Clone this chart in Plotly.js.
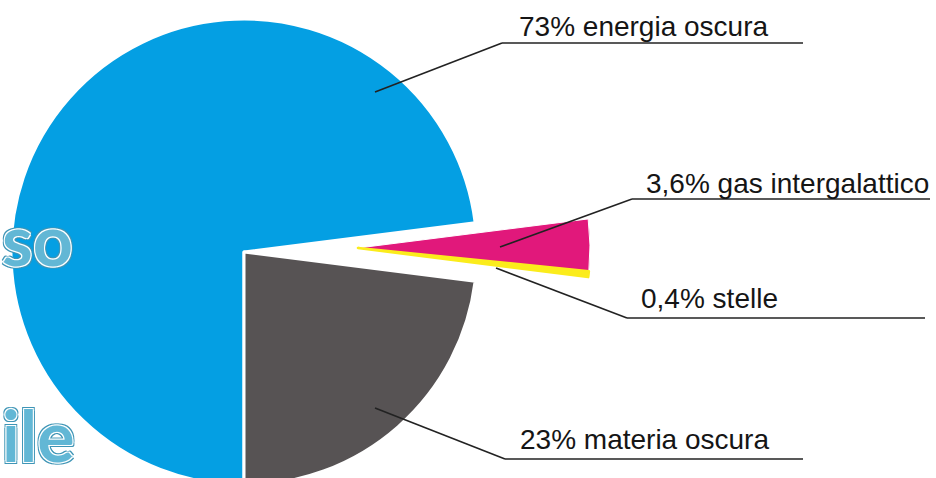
<!DOCTYPE html>
<html>
<head>
<meta charset="utf-8">
<script src="https://cdn.plot.ly/plotly-3.0.1.min.js"></script>
<style>
  html, body { margin: 0; padding: 0; background: #fff; overflow: hidden; width: 936px; height: 478px; }
  #chart { width: 936px; height: 490px; }
</style>
</head>
<body>
<div id="chart"></div>
<script>
// ---- data ----
const labels = ['energia oscura', 'gas intergalattico', 'stelle', 'materia oscura'];
const values = [73, 3.6, 0.4, 23];
const valueText = ['73%', '3,6%', '0,4%', '23%'];
const colors = ['#049fe3', '#e1187b', '#fbec1c', '#575354'];
const pulledOut = [false, true, true, false];
const backgroundWords = ['so', 'ile'];

// ---- layout helpers ----
const W = 936, H = 490;
const px = x => x / W;
const py = y => 1 - y / H;
const box = (cx, cy, r) => ({ x: [px(cx - r), px(cx + r)], y: [py(cy + r), py(cy - r)] });

const clear = 'rgba(0,0,0,0)';
const mainColors = colors.map((c, i) => pulledOut[i] ? clear : c);
const pullColors = colors.map((c, i) => pulledOut[i] ? c : clear);
// thin slices get an outline in their own colour so they stay visible, like the original drawing
const pullLineColors = colors.map((c, i) => (pulledOut[i] && values[i] < 1) ? c : '#fff');
const pullLineWidths = values.map((v, i) => pulledOut[i] ? (v < 1 ? 2.6 : 1) : 0);

const base = {
  type: 'pie',
  labels: labels,
  values: values,
  sort: false,
  direction: 'clockwise',
  rotation: 180,
  textinfo: 'none',
  hoverinfo: 'none',
  showlegend: false
};

const traceMain = Object.assign({}, base, {
  marker: { colors: mainColors, line: { color: '#fff', width: pulledOut.map(p => p ? 0 : 3) } },
  domain: box(244, 252, 233)
});
const tracePull = Object.assign({}, base, {
  marker: { colors: pullColors, line: { color: pullLineColors, width: pullLineWidths } },
  domain: box(358, 248, 232)
});

// label placement (window pixels): text left/baseline, underline, leader start
const labelSpots = [
  { tx: 517, by: 36, ux0: 502, ux1: 803, uy: 43, lx: 375, ly: 92 },
  { tx: 644, by: 193, ux0: 632, ux1: 930, uy: 199, lx: 500, ly: 247 },
  { tx: 639, by: 308, ux0: 627, ux1: 925, uy: 318, lx: 496, ly: 268 },
  { tx: 518, by: 449, ux0: 505, ux1: 803, uy: 459, lx: 375, ly: 408 }
];
const fs = 28;
const lineStyle = { color: '#222', width: 1.6 };

const shapes = [];
const annotations = [];
labelSpots.forEach((s, i) => {
  shapes.push({ type: 'line', xref: 'paper', yref: 'paper', x0: px(s.lx), y0: py(s.ly), x1: px(s.ux0), y1: py(s.uy), line: lineStyle });
  shapes.push({ type: 'line', xref: 'paper', yref: 'paper', x0: px(s.ux0), y0: py(s.uy), x1: px(s.ux1), y1: py(s.uy), line: lineStyle });
  annotations.push({
    xref: 'paper', yref: 'paper', x: px(s.tx), y: py(s.by - fs * 0.35),
    xanchor: 'left', yanchor: 'middle', showarrow: false,
    text: valueText[i] + ' ' + labels[i],
    font: { family: 'Liberation Sans, Arial, sans-serif', size: fs, color: '#151515' }
  });
});

const wordShadow = '1px 1px 0 #fff, -1px 1px 0 #fff, 1px -1px 0 #fff, -1px -1px 0 #fff, ' +
  '2px 2px 0 #3f95b6, -2px 2px 0 #3f95b6, 2px -2px 0 #3f95b6, -2px -2px 0 #3f95b6';
const wordSpots = [ { x: 0, y: 239 }, { x: 0, y: 435 } ];
backgroundWords.forEach((w, i) => {
  annotations.push({
    xref: 'paper', yref: 'paper', x: px(wordSpots[i].x), y: py(wordSpots[i].y),
    xanchor: 'left', yanchor: 'middle', showarrow: false, text: w,
    font: { family: 'Lato, sans-serif', size: 70, weight: 700, color: '#62b7d5', shadow: wordShadow }
  });
});

const layout = {
  width: W, height: H,
  margin: { l: 0, r: 0, t: 0, b: 0, pad: 0 },
  paper_bgcolor: '#fff',
  plot_bgcolor: '#fff',
  showlegend: false,
  shapes: shapes,
  annotations: annotations
};

Plotly.newPlot('chart', [traceMain, tracePull], layout, { staticPlot: true, displayModeBar: false });
</script>
</body>
</html>
